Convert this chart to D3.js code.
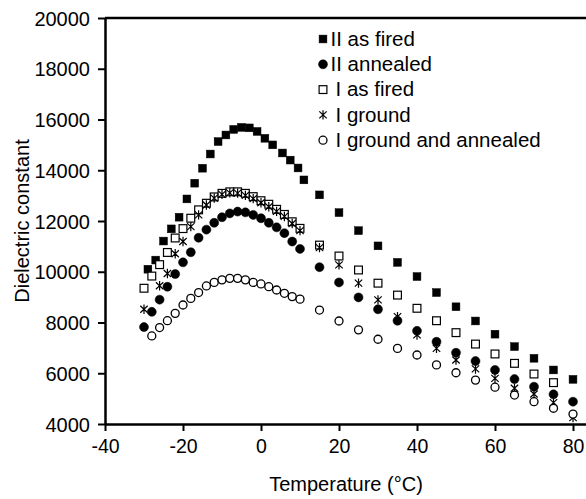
<!DOCTYPE html>
<html>
<head>
<meta charset="utf-8">
<script src="https://cdn.jsdelivr.net/npm/d3@7"></script>
<style>
  body { margin: 0; background: #fff; }
  svg { display: block; font-family: "Liberation Sans", Arial, sans-serif; }
</style>
</head>
<body>
<div class="container"></div>
<script>
// temperatures (deg C) and dielectric constant per sample
var tempsIIasFired = [-29,-27,-25,-23,-21,-19,-17,-15,-13,-11,-9,-7,-5,-3,-1,1,3,5.5,7.5,9.5,11,15,20,25,30,35,40,45,50,55,60,65,70,75,80];
var IIasFired = [10100,10460,11210,11690,12150,12870,13490,14080,14640,15130,15390,15610,15690,15670,15530,15260,15000,14680,14400,14090,13620,13030,12330,11620,11020,10370,9810,9180,8620,8060,7540,7050,6590,6130,5760];

var tempsIIannealed = [-30,-28,-26,-24,-22,-20,-18,-16,-14,-12,-10,-8,-6,-4,-2,0,2,4,6,8,10,15,20,25,30,35,40,45,50,55,60,65,70,75,80];
var IIannealed = [7820,8420,8900,9410,9910,10370,10770,11340,11660,11930,12150,12300,12370,12340,12240,12110,11930,11750,11520,11190,10900,10180,9580,8990,8520,8070,7670,7240,6810,6480,6130,5770,5470,5170,4880];

var tempsIasFired = [-30,-28,-26,-24,-22,-20,-18,-16,-14,-12,-10,-8,-6,-4,-2,0,2,4,6,8,10,15,20,25,30,35,40,45,50,55,60,65,70,75];
var IasFired = [9350,9830,10280,10760,11330,11700,12110,12440,12700,12950,13090,13150,13150,13090,12960,12800,12660,12460,12260,11970,11710,11050,10620,10070,9550,9080,8560,8070,7600,7150,6760,6390,5970,5630];

var tempsIground = [-30,-26,-24,-22,-20,-18,-16,-14,-12,-10,-8,-6,-4,-2,0,2,4,6,8,10,15,20,25,30,35,40,45,50,55,60,65,70,75,80];
var Iground = [8520,9450,9930,10710,11190,11780,12240,12630,12900,13050,13110,13100,13010,12880,12720,12560,12380,12180,11900,11620,10950,10270,9550,8890,8230,7510,6980,6520,6170,5800,5410,5180,4840,4250];

var tempsIgroundAnnealed = [-28,-26,-24,-22,-20,-18,-16,-14,-12,-10,-8,-6,-4,-2,0,2,4,6,8,10,15,20,25,30,35,40,45,50,55,60,65,70,75,80];
var IgroundAnnealed = [7470,7800,8070,8360,8690,8950,9180,9440,9580,9680,9740,9740,9680,9580,9520,9410,9280,9150,9020,8920,8490,8060,7710,7340,6980,6720,6330,6020,5730,5450,5140,4880,4620,4390];

var seriesNames = ["II as fired", "II annealed", "I as fired", "I ground", "I ground and annealed"];
var seriesMarkers = ["squareFilled", "circleFilled", "squareOpen", "asterisk", "circleOpen"];
var xTicks = [-40, -20, 0, 20, 40, 60, 80];
var yTicks = [4000, 6000, 8000, 10000, 12000, 14000, 16000, 18000, 20000];

var series = [
  {name: seriesNames[0], marker: seriesMarkers[0], t: tempsIIasFired, v: IIasFired},
  {name: seriesNames[1], marker: seriesMarkers[1], t: tempsIIannealed, v: IIannealed},
  {name: seriesNames[2], marker: seriesMarkers[2], t: tempsIasFired, v: IasFired},
  {name: seriesNames[3], marker: seriesMarkers[3], t: tempsIground, v: Iground},
  {name: seriesNames[4], marker: seriesMarkers[4], t: tempsIgroundAnnealed, v: IgroundAnnealed}
];

var W = 586, H = 499;
var svg = d3.select(".container").append("svg").attr("width", W).attr("height", H);

// plot area runs a bit past the right edge of the picture (cropped)
var x = d3.scaleLinear().domain([-40, 85]).range([105, 592.5]);
var y = d3.scaleLinear().domain([4000, 20000]).range([424, 18]);

// plain labels: ascii hyphen for minus, no thousands separator
var plain = function(d) { return String(d); };

// top frame line
svg.append("line")
  .attr("x1", x(-40)).attr("x2", x(85))
  .attr("y1", y(20000)).attr("y2", y(20000))
  .attr("stroke", "#000").attr("stroke-width", 2.5);

var xAxis = svg.append("g")
  .attr("transform", "translate(0," + y(4000) + ")")
  .call(d3.axisBottom(x).tickValues(xTicks).tickFormat(plain).tickSize(7).tickSizeOuter(0).tickPadding(8));
var yAxis = svg.append("g")
  .attr("transform", "translate(" + x(-40) + ",0)")
  .call(d3.axisLeft(y).tickValues(yTicks).tickFormat(plain).tickSize(7).tickSizeOuter(0).tickPadding(8));

[xAxis, yAxis].forEach(function(g) {
  g.select(".domain").attr("stroke", "#000").attr("stroke-width", 2.5);
  g.selectAll(".tick line").attr("stroke", "#000").attr("stroke-width", 2);
  g.selectAll(".tick text").attr("fill", "#000")
    .style("font-size", "19.5px")
    .style("font-family", "\"Liberation Sans\", Arial, sans-serif");
});
yAxis.selectAll(".tick text").attr("dy", "0.36em").style("font-size", "20px");

// axis titles
svg.append("text")
  .attr("x", 346).attr("y", 491)
  .attr("text-anchor", "middle")
  .style("font-size", "20px")
  .text("Temperature (°C)");
svg.append("text")
  .attr("transform", "translate(28.5,221) rotate(-90)")
  .attr("text-anchor", "middle")
  .style("font-size", "20px")
  .text("Dielectric constant");

function drawMarker(g, kind, cx, cy) {
  if (kind == "squareFilled" || kind == "squareOpen") {
    g.append("rect")
      .attr("x", cx - 3.9).attr("y", cy - 3.9)
      .attr("width", 7.8).attr("height", 7.8)
      .attr("fill", kind == "squareFilled" ? "#000" : "#fff")
      .attr("stroke", "#000")
      .attr("stroke-width", kind == "squareFilled" ? 0.5 : 1.2);
  } else if (kind == "circleFilled" || kind == "circleOpen") {
    g.append("circle")
      .attr("cx", cx).attr("cy", cy)
      .attr("r", kind == "circleFilled" ? 4.5 : 4)
      .attr("fill", kind == "circleFilled" ? "#000" : "#fff")
      .attr("stroke", "#000")
      .attr("stroke-width", kind == "circleFilled" ? 0.5 : 1.3);
  } else {
    var r = 4.7, dx = 3.7, dy = 3.5;
    g.append("path")
      .attr("d", "M" + cx + "," + (cy - r) + "L" + cx + "," + (cy + r) +
                 "M" + (cx - dx) + "," + (cy - dy) + "L" + (cx + dx) + "," + (cy + dy) +
                 "M" + (cx - dx) + "," + (cy + dy) + "L" + (cx + dx) + "," + (cy - dy))
      .attr("fill", "none")
      .attr("stroke", "#000")
      .attr("stroke-width", 1.2);
  }
}

// points, drawn series by series
series.forEach(function(s) {
  var g = svg.append("g").attr("class", "series");
  s.t.forEach(function(t, i) {
    drawMarker(g, s.marker, x(t), y(s.v[i]));
  });
});

// legend
var legend = svg.append("g").attr("class", "legend");
series.forEach(function(s, i) {
  var cy = 39 + i * 25.3;
  drawMarker(legend, s.marker, 323, cy);
  legend.append("text")
    .attr("x", s.name.indexOf("II") == 0 ? 330.5 : 335.5)
    .attr("y", cy + 6.8)
    .style("font-size", "20.5px")
    .attr("fill", "#000")
    .text(s.name);
});
</script>
</body>
</html>
